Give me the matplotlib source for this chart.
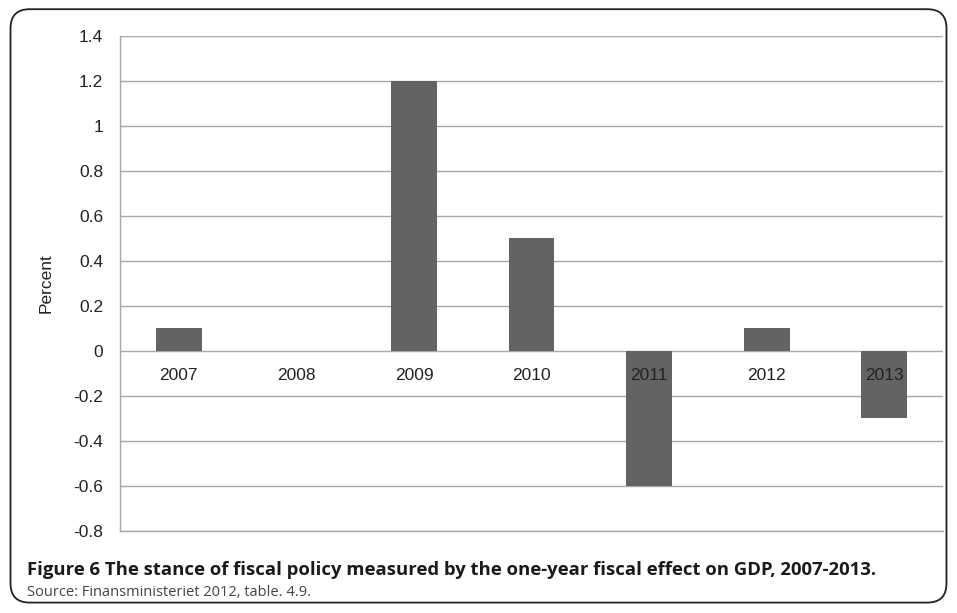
import numpy as np
import matplotlib.pyplot as plt
from matplotlib.patches import FancyBboxPatch

years = ["2007", "2008", "2009", "2010", "2011", "2012", "2013"]
valores = [0.1, 0.0, 1.2, 0.5, -0.6, 0.1, -0.3]
yticks = [-0.8, -0.6, -0.4, -0.2, 0, 0.2, 0.4, 0.6, 0.8, 1, 1.2, 1.4]
ytick_labels = ["-0.8", "-0.6", "-0.4", "-0.2", "0", "0.2", "0.4", "0.6", "0.8", "1", "1.2", "1.4"]

plt.rcParams['font.family'] = ['Liberation Sans', 'DejaVu Sans']

fig = plt.figure(figsize=(9.57, 6.13), dpi=100)
ax = fig.add_axes([0.1254, 0.1338, 0.86, 0.8075])

x = np.arange(len(years))
ax.bar(x, valores, width=0.39, color='#636363', linewidth=0, zorder=3)

# etiquetas de categoria sobre la linea del cero
for xi, lab in zip(x, years):
    ax.text(xi, -0.11, lab, ha='center', va='center', fontsize=12.5, color='#222222', zorder=4)

ax.set_xlim(-0.5, len(years) - 0.5)
ax.set_ylim(-0.8, 1.4)
ax.set_yticks(yticks)
ax.set_yticklabels(ytick_labels, fontsize=12.5, color='#222222')
ax.set_xticks([])
ax.tick_params(axis='y', length=0, pad=12)
ax.grid(axis='y', color='#a8a8a8', linewidth=1.0, zorder=0)
for s in ['top', 'right']:
    ax.spines[s].set_visible(False)
for s in ['left', 'bottom']:
    ax.spines[s].set_color('#a8a8a8')
    ax.spines[s].set_linewidth(1.0)
ax.set_ylabel("Percent", fontsize=12.5, color='#222222', labelpad=14)

# marco redondeado
box = FancyBboxPatch((0.011, 0.017), 0.978, 0.968, boxstyle="round,pad=0,rounding_size=0.02",
                     transform=fig.transFigure, fill=False, edgecolor='#222222', linewidth=1.3,
                     mutation_aspect=957/613)
fig.patches.append(box)

fig.text(0.028, 0.070, "Figure 6 The stance of fiscal policy measured by the one-year fiscal effect on GDP, 2007-2013.",
         fontsize=13.3, fontweight='bold', family='Open Sans', color='#1a1a1a', va='center')
fig.text(0.028, 0.033, "Source: Finansministeriet 2012, table. 4.9.", fontsize=10.5, family='Open Sans',
         color='#444444', va='center')

fig.savefig("out.png", dpi=100)
